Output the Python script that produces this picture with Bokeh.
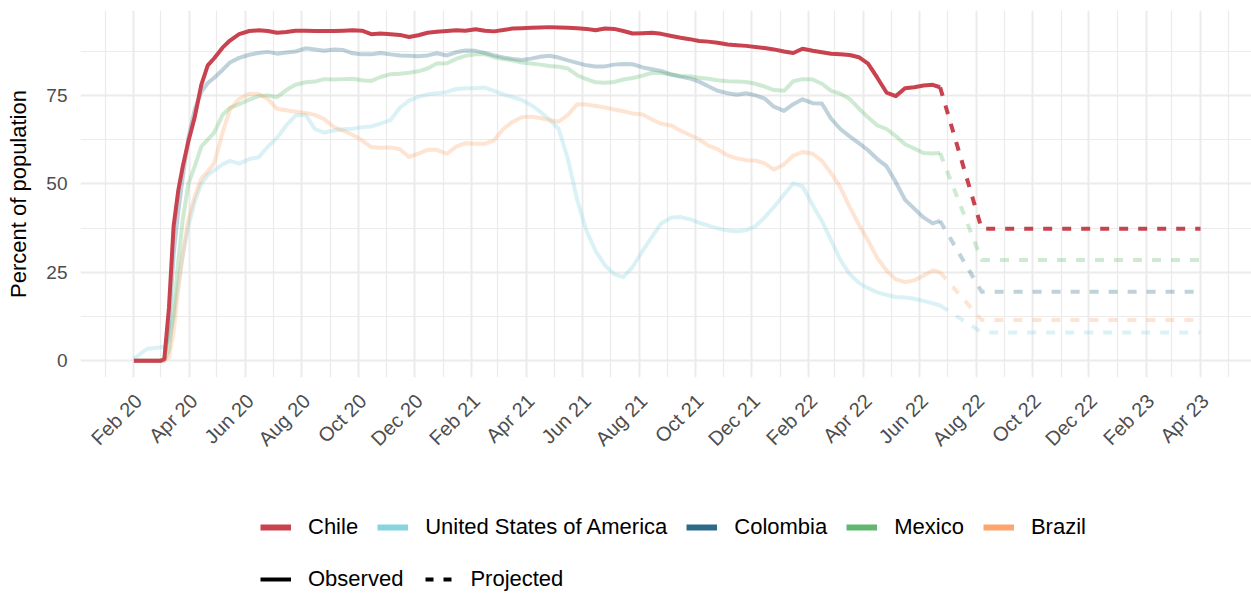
import pandas as pd
from bokeh.plotting import figure
from bokeh.layouts import column
from bokeh.models import Range1d, FixedTicker, DatetimeTickFormatter, Legend, LegendItem
from bokeh.embed import file_html
from bokeh.resources import INLINE
import math

dates = [
    "2020-02-01","2020-02-15","2020-03-01","2020-03-05","2020-03-10","2020-03-15","2020-03-20","2020-03-25","2020-03-31","2020-04-07",
    "2020-04-14","2020-04-21","2020-04-28","2020-05-07","2020-05-15","2020-05-25","2020-06-05","2020-06-15","2020-06-25","2020-07-05",
    "2020-07-15","2020-07-25","2020-08-05","2020-08-15","2020-08-25","2020-09-05","2020-09-15","2020-09-25","2020-10-05","2020-10-15",
    "2020-10-25","2020-11-05","2020-11-15","2020-11-25","2020-12-05","2020-12-15","2020-12-25","2021-01-05","2021-01-15","2021-01-25",
    "2021-02-05","2021-02-15","2021-02-25","2021-03-07","2021-03-17","2021-03-27","2021-04-06","2021-04-16","2021-04-26","2021-05-06",
    "2021-05-16","2021-05-26","2021-06-05","2021-06-15","2021-06-25","2021-07-05","2021-07-15","2021-07-25","2021-08-05","2021-08-15",
    "2021-08-25","2021-09-05","2021-09-15","2021-09-25","2021-10-05","2021-10-15","2021-10-25","2021-11-05","2021-11-15","2021-11-25",
    "2021-12-05","2021-12-15","2021-12-25","2022-01-05","2022-01-15","2022-01-25","2022-02-05","2022-02-15","2022-02-25","2022-03-07",
    "2022-03-17","2022-03-27","2022-04-06","2022-04-16","2022-04-26","2022-05-06","2022-05-16","2022-05-26","2022-06-05","2022-06-15",
    "2022-06-23",
]

chile = [
    0, 0, 0, 0.5, 15, 38, 48, 55, 62, 69,
    78, 83.5, 85.5, 88.5, 90.5, 92.3, 93.2, 93.4, 93.2, 92.7,
    92.9, 93.3, 93.3, 93.2, 93.2, 93.2, 93.3, 93.4, 93.3, 92.3,
    92.5, 92.3, 92.1, 91.5, 92.0, 92.7, 93.0, 93.2, 93.4, 93.3,
    93.7, 93.3, 93.1, 93.5, 93.9, 94.0, 94.1, 94.2, 94.3, 94.2,
    94.1, 94.0, 93.8, 93.4, 93.9, 93.8, 93.2, 92.5, 92.6, 92.7,
    92.4, 91.8, 91.3, 90.9, 90.4, 90.2, 89.9, 89.4, 89.2, 89.0,
    88.7, 88.4, 88.0, 87.4, 87.0, 88.2, 87.6, 87.2, 86.8, 86.6,
    86.4, 85.8, 84.0, 80.0, 75.8, 74.8, 77.0, 77.3, 77.8, 78.0,
    77.3,
]

usa = [
    0.5, 3.3, 3.8, 4, 6, 12, 22, 30, 38, 45,
    50, 52.5, 53.8, 55.5, 56.5, 55.7, 57, 57.5, 60.5, 63,
    66.5, 69.3, 69.5, 65.5, 64.5, 65.1, 65.4, 65.6, 66, 66.2,
    67, 68, 71.5, 73.5, 74.6, 75.3, 75.6, 76, 76.8, 77,
    77, 77.2, 76.3, 75.3, 74.5, 73.7, 72.3, 70.4, 68.2, 65.5,
    57, 45.5, 36.8, 31, 27, 24.5, 23.6, 26.5, 31.1, 35,
    38.8, 40.5, 40.6, 40, 39, 38.2, 37.4, 36.8, 36.6, 36.9,
    38, 40.5, 43.4, 47, 50.1, 49.3, 44, 39.5, 34, 28.5,
    24.5, 22, 20.5, 19.3, 18.6, 18, 17.9, 17.5, 16.9, 16.2,
    15.6,
]

colombia = [
    0, 0, 0, 0.5, 10, 30, 42, 52, 63, 71,
    76, 78.5, 80, 82.2, 84.3, 85.6, 86.5, 87, 87.3, 86.8,
    87.1, 87.4, 88.3, 88, 87.6, 88, 87.8, 86.9, 86.6, 86.6,
    87, 86.6, 86.3, 86.2, 86.1, 86.3, 86.9, 86.3, 87.2, 87.7,
    87.6, 87, 86.3, 85.7, 85.3, 85, 85.4, 85.9, 86.2, 85.7,
    84.9, 84.2, 83.5, 83.2, 83.2, 83.7, 83.9, 83.8, 82.9, 82.4,
    81.9, 80.9, 80.3, 79.8, 78.9, 77.6, 76.3, 75.6, 75.2, 75.6,
    75, 74.1, 71.8, 70.6, 72.5, 73.9, 72.8, 72.7, 68.4, 65.5,
    63.4, 61.5, 59.5, 57, 55, 50.5, 45.5, 43, 40.5, 38.8,
    39.5,
]

mexico = [
    0, 0, 0, 0, 3, 14, 28, 40, 50, 55,
    60.5, 62.5, 64.5, 69.5, 71.5, 72.5, 73.8, 74.8, 75, 74.5,
    76.5, 78, 78.7, 78.9, 79.6, 79.5, 79.6, 79.7, 79.3, 79.1,
    80.2, 81, 81.1, 81.4, 81.8, 82.6, 84, 84.1, 85.3, 86.2,
    86.6, 86.7, 85.8, 85.3, 84.9, 84.3, 84, 83.7, 83.3, 83.1,
    82.6, 80.7, 79.6, 78.7, 78.6, 78.8, 79.5, 79.9, 80.6, 81.4,
    81.3, 80.9, 80.5, 80.4, 80, 79.7, 79.3, 79, 78.9, 78.8,
    78.3, 77.5, 76.5, 76.3, 79, 79.6, 79.5, 78.3, 76.3, 75.5,
    74, 71.3, 68.8, 66.5, 65.5, 63.5, 61.2, 60, 58.7, 58.6,
    58.7,
]

brazil = [
    0, 0, 0, 0, 1, 8, 20, 30, 40, 46.5,
    51.5, 53.5, 55.8, 64.4, 71, 74, 75.5, 75.4, 74, 71.2,
    70.8, 70.4, 70, 69.5, 68.3, 66, 65, 63.8, 62.3, 60.4,
    60.2, 60.3, 59.8, 57.6, 58.5, 59.6, 59.6, 58.5, 60.5, 61.5,
    61.3, 61.3, 62.3, 65.5, 67.5, 68.8, 69, 68.6, 68, 67.6,
    69.5, 72.5, 72.4, 72, 71.6, 71, 70.5, 69.9, 69.6, 68.2,
    67, 66.5, 65, 63.8, 62.6, 60.8, 59.8, 58, 57.2, 56.7,
    56.6, 55.8, 54, 55.5, 58, 59, 58.5, 56.5, 53, 49,
    43.5, 38.5, 34, 29, 25.5, 23, 22.2, 22.7, 24, 25.5,
    25,
]

proj_dates = ["2022-06-23", "2022-08-07", "2023-04-01"]
proj_chile = [77.3, 37.3, 37.3]
proj_usa = [15.6, 8.0, 8.0]
proj_colombia = [39.5, 19.5, 19.5]
proj_mexico = [58.7, 28.5, 28.5]
proj_brazil = [25, 11.5, 11.5]

countries = ["Chile", "United States of America", "Colombia", "Mexico", "Brazil"]
colors = ["#C8434F", "#86D4DF", "#2B6A88", "#5FB86E", "#FDA56E"]

x_tick_dates = pd.date_range("2020-02-01", "2023-04-01", freq="2MS")
x_minor_dates = pd.date_range("2020-01-01", "2023-05-01", freq="2MS")
y_ticks = [0, 25, 50, 75]
y_minor = [12.5, 37.5, 62.5, 87.5]

def ms(ts, shift_days=0.0):
    return [(pd.Timestamp(t) + pd.Timedelta(days=shift_days)).value / 1e6 for t in ts]

FONT = "Liberation Sans"
W = 1251
H_MAIN = 462
H_LEG = 595 - H_MAIN

x_start = pd.Timestamp("2020-02-01") - pd.Timedelta(days=57.8)
x_end = x_start + pd.Timedelta(days=1171 / 0.9235)

p = figure(width=W, height=H_MAIN, output_backend="svg", toolbar_location=None,
           x_axis_type="datetime",
           x_range=Range1d(x_start, x_end), y_range=Range1d(-4.75, 99.0),
           min_border_left=80, min_border_right=0, min_border_top=10,
           min_border_bottom=H_MAIN - 377)
p.outline_line_color = None
p.background_fill_color = "white"

# grids
p.xgrid.ticker = FixedTicker(ticks=ms(x_tick_dates), minor_ticks=ms(x_minor_dates))
p.ygrid.ticker = FixedTicker(ticks=y_ticks, minor_ticks=y_minor)
for g in (p.xgrid, p.ygrid):
    g.grid_line_color = "#EBEBEB"
    g.grid_line_width = 2
    g.minor_grid_line_color = "#EBEBEB"
    g.minor_grid_line_width = 1.2

# axes (labels nudged right so the rotated text ends just past each grid line)
p.xaxis.ticker = FixedTicker(ticks=ms(x_tick_dates, 5))
fmt = "%b %y"
p.xaxis.formatter = DatetimeTickFormatter(
    microseconds=fmt, milliseconds=fmt, seconds=fmt, minsec=fmt, minutes=fmt,
    hourmin=fmt, hours=fmt, days=fmt, months=fmt, years=fmt)
p.xaxis.major_label_orientation = math.pi / 4
p.yaxis.ticker = FixedTicker(ticks=y_ticks)
for ax in (p.xaxis[0], p.yaxis[0]):
    ax.axis_line_color = None
    ax.major_tick_line_color = None
    ax.minor_tick_line_color = None
    ax.major_tick_out = 0
    ax.major_tick_in = 0
    ax.major_label_text_color = "#4D4D4D"
    ax.major_label_text_font = FONT
    ax.major_label_text_font_size = "19px"
p.xaxis.major_label_text_font_size = "20px"
p.xaxis.major_label_standoff = 20
p.yaxis.major_label_standoff = 13
p.yaxis.axis_label = "Percent of population"
p.yaxis.axis_label_text_font = FONT
p.yaxis.axis_label_text_font_size = "22px"
p.yaxis.axis_label_text_font_style = "normal"
p.yaxis.axis_label_text_color = "black"
p.yaxis.axis_label_standoff = 12

obs_series = [chile, usa, colombia, mexico, brazil]
proj_series = [proj_chile, proj_usa, proj_colombia, proj_mexico, proj_brazil]
dt = pd.to_datetime(dates)
pdt = pd.to_datetime(proj_dates)

draw_order = [1, 2, 3, 4, 0]
for i in draw_order:
    a = 1.0 if i == 0 else 0.3
    p.line(dt, obs_series[i], line_color=colors[i], line_alpha=a, line_width=4,
           line_join="round")
    p.line(pdt, proj_series[i], line_color=colors[i], line_alpha=a, line_width=4,
           line_dash="9 10", line_join="round")

# legend panel below the chart (its frame is aligned with the chart's frame, x=80)
q = figure(width=W, height=H_LEG, output_backend="svg", toolbar_location=None,
           x_range=Range1d(0, 10), y_range=Range1d(0, 10),
           min_border_left=80, min_border_right=0, min_border_top=0, min_border_bottom=0)
q.axis.visible = False
q.grid.visible = False
q.outline_line_color = None

# legend keys: a line segment that lies outside the visible range
off_x = [-50, -40]
off_y = [-50, -50]
items1 = []
for name, c in zip(countries, colors):
    r = q.line(x=off_x, y=off_y, line_color=c, line_width=6)
    items1.append(LegendItem(label=name, renderers=[r]))
r_obs = q.line(x=off_x, y=off_y, line_color="black", line_width=4)
r_proj = q.line(x=off_x, y=off_y, line_color="black", line_width=4, line_dash="8 10",
                line_dash_offset=-3)
items2 = [LegendItem(label="Observed", renderers=[r_obs]),
          LegendItem(label="Projected", renderers=[r_proj])]

def make_legend(items, loc):
    return Legend(items=items, orientation="horizontal", location=loc,
                  glyph_width=31, glyph_height=22, label_height=22,
                  label_standoff=17, spacing=19, padding=0, margin=0,
                  border_line_color=None, background_fill_alpha=0,
                  label_text_font=FONT, label_text_font_size="22px",
                  label_text_color="black")

# row centres at y=526 and y=578 of the page, swatches starting at x=260
q.add_layout(make_legend(items1, (180, H_LEG - (529 - H_MAIN) - 11)))
q.add_layout(make_legend(items2, (180, H_LEG - (581 - H_MAIN) - 11)))

layout = column(p, q, spacing=0)
open("out.html", "w").write(file_html(layout, INLINE))
